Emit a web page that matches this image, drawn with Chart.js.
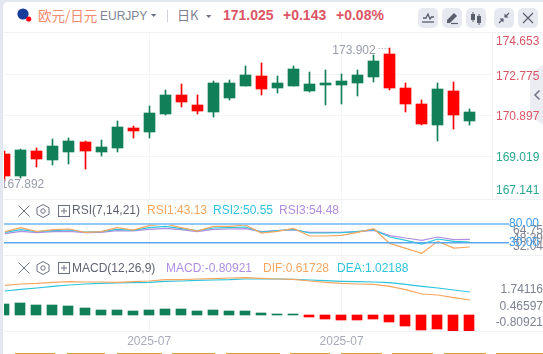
<!DOCTYPE html>
<html>
<head>
<meta charset="utf-8">
<title>EURJPY</title>
<script src="https://cdn.jsdelivr.net/npm/chart.js@4/dist/chart.umd.min.js"></script>
<style>
html, body { margin: 0; padding: 0; }
body { width: 543px; height: 354px; overflow: hidden; position: relative; background: #e3e7ef; font-family: "Liberation Sans", Arial, sans-serif; }
#panel { position: absolute; left: 3px; top: 2px; width: 540px; height: 352px; background: #fff; border-top-left-radius: 5px; }
canvas { position: absolute; left: 0; display: block; }
.t { position: absolute; white-space: nowrap; line-height: 16px; font-size: 12px; }
.line { position: absolute; background: #eff1f5; }
.btn { position: absolute; top: 8px; width: 20px; height: 20px; border-radius: 5px; background: #e7e9f1; }
.btn svg, .ic { position: absolute; left: 0; top: 0; }
.tab { position: absolute; top: 353px; height: 1px; background: #d9a23f; }
#handle { position: absolute; left: 530px; top: 65px; width: 13px; height: 60px; background: #ebedf3; clip-path: polygon(100% 0, 0 16%, 0 84%, 100% 100%); }
</style>
</head>
<body>
<div id="panel"></div>
<div id="handle"></div>

<!-- header -->
<svg class="ic" style="left:16px;top:7px" width="17" height="17">
  <circle cx="7" cy="7" r="5.6" fill="#173c9a"/>
  <circle cx="12.7" cy="12" r="2.6" fill="#f5000f"/>
</svg>
<span class="t" style="left:38px;top:7px;font-size:13.5px;color:#f58a6c;font-family:'Noto Sans CJK SC'">欧元/日元</span>
<span class="t" style="left:100px;top:8px;color:#7d8394">EURJPY</span>
<svg class="ic" style="left:151px;top:14px" width="6" height="4"><path d="M0 0H5.4L2.7 3Z" fill="#6d7282"/></svg>
<div class="line" style="left:167px;top:10px;width:1px;height:12px;background:#cfd2da"></div>
<span class="t" style="left:177px;top:7px;font-size:13px;color:#7d8394;font-family:'Noto Sans CJK SC'">日K</span>
<svg class="ic" style="left:206px;top:15px" width="6" height="4"><path d="M0 0H5.4L2.7 3Z" fill="#6d7282"/></svg>
<span class="t" style="left:223px;top:7px;font-size:14px;font-weight:bold;color:#dc5566">171.025</span>
<span class="t" style="left:283px;top:7px;font-size:14px;font-weight:bold;color:#dc5566">+0.143</span>
<span class="t" style="left:336px;top:7px;font-size:14px;font-weight:bold;color:#dc5566">+0.08%</span>

<div class="btn" style="left:418px"><svg width="20" height="20"><path d="M5 10H8L10 6L12 11L13.5 9H16" fill="none" stroke="#5a5f6e" stroke-width="1.3"/><path d="M4 14H16" stroke="#5a5f6e" stroke-width="1.3"/></svg></div>
<div class="btn" style="left:442px"><svg width="20" height="20"><path d="M5 12L12 5L15 8L8 15H5Z" fill="#5a5f6e"/><path d="M9 15.5H16" stroke="#5a5f6e" stroke-width="1.2"/></svg></div>
<div class="btn" style="left:466px"><svg width="20" height="20"><path d="M7 4V14M13 6V17" stroke="#5a5f6e"/><rect x="5" y="6" width="4" height="6" fill="#5a5f6e"/><rect x="11" y="8" width="4" height="7" fill="#5a5f6e"/></svg></div>
<div class="btn" style="left:494px"><svg width="20" height="20"><path d="M15 5L11 9M5 15L9 11" stroke="#5a5f6e" stroke-width="1.3"/><path d="M10.5 5.5V9.5H14.5Z M5.5 10.5H9.5V14.5Z" fill="#5a5f6e"/></svg></div>
<div class="btn" style="left:518px"><svg width="20" height="20"><path d="M5 5L15 15M15 5L5 15" stroke="#5a5f6e" stroke-width="1.2"/></svg></div>

<!-- pane separators -->
<div class="line" style="left:4px;top:32px;width:539px;height:1px"></div>
<div class="line" style="left:4px;top:199px;width:539px;height:1px"></div>
<div class="line" style="left:4px;top:255px;width:539px;height:1px"></div>
<div class="line" style="left:4px;top:331px;width:539px;height:1px"></div>

<canvas id="mainChart" width="543" height="166" style="top:33px"></canvas>
<canvas id="rsiChart" width="543" height="56" style="top:199px"></canvas>
<canvas id="guideChart" width="543" height="56" style="top:199px"></canvas>
<canvas id="macdChart" width="543" height="97" style="top:255px"></canvas>

<svg class="ic" style="left:533px;top:89px" width="9" height="12"><path d="M6.5 1.5L2 6L6.5 10.5" fill="none" stroke="#6d7282" stroke-width="1.5"/></svg>

<!-- RSI legend -->
<svg class="ic" style="left:17px;top:204px" width="60" height="14">
  <path d="M1.5 1.5L12.5 12.5M12.5 1.5L1.5 12.5" stroke="#6d7282"/>
  <path d="M26 .5L32 3.8V10.2L26 13.5L20 10.2V3.8Z" fill="none" stroke="#6d7282"/><circle cx="26" cy="7" r="2.2" fill="none" stroke="#6d7282"/>
  <rect x="41.5" y="1.5" width="11" height="11" fill="none" stroke="#6d7282"/><path d="M44 7H50M47 4V10" stroke="#6d7282"/>
</svg>
<span class="t" style="left:72px;top:202px;color:#5f6472">RSI(7,14,21)</span>
<span class="t" style="left:147px;top:202px;color:#f7a660">RSI1:43.13</span>
<span class="t" style="left:213px;top:202px;color:#2cc4dc">RSI2:50.55</span>
<span class="t" style="left:279px;top:202px;color:#b08ee0">RSI3:54.48</span>

<!-- MACD legend -->
<svg class="ic" style="left:17px;top:261px" width="60" height="14">
  <path d="M1.5 1.5L12.5 12.5M12.5 1.5L1.5 12.5" stroke="#6d7282"/>
  <path d="M26 .5L32 3.8V10.2L26 13.5L20 10.2V3.8Z" fill="none" stroke="#6d7282"/><circle cx="26" cy="7" r="2.2" fill="none" stroke="#6d7282"/>
  <rect x="41.5" y="1.5" width="11" height="11" fill="none" stroke="#6d7282"/><path d="M44 7H50M47 4V10" stroke="#6d7282"/>
</svg>
<span class="t" style="left:72px;top:260px;color:#5f6472">MACD(12,26,9)</span>
<span class="t" style="left:166px;top:260px;color:#b08ee0">MACD:-0.80921</span>
<span class="t" style="left:263px;top:260px;color:#f7a660">DIF:0.61728</span>
<span class="t" style="left:337px;top:260px;color:#2cc4dc">DEA:1.02188</span>

<!-- tops of the tab row cut off by the screenshot -->
<div class="tab" style="left:15px;width:40px"></div>
<div class="tab" style="left:67px;width:38px"></div>
<div class="tab" style="left:117px;width:45px"></div>
<div class="tab" style="left:172px;width:43px"></div>
<div class="tab" style="left:226px;width:54px"></div>
<div class="tab" style="left:290px;width:40px"></div>
<div class="tab" style="left:341px;width:41px"></div>
<div class="tab" style="left:392px;width:41px"></div>
<div class="tab" style="left:444px;width:42px"></div>
<div class="tab" style="left:496px;width:47px"></div>

<script>
//-----------------------------------------------------
// Data
//-----------------------------------------------------
const opens  = [169.124,168.111,169.262,168.847,169.216,169.676,169.216,169.400,170.321,170.137,170.965,171.840,171.380,171.057,171.702,172.254,172.715,172.162,172.254,172.024,172.301,172.301,172.393,172.669,173.728,172.162,171.426,170.459,172.024,170.643];
const closes = [168.111,169.308,168.893,169.492,169.722,169.262,169.446,170.367,170.183,171.011,171.840,171.518,171.103,172.393,172.393,172.761,172.116,172.393,173.037,172.347,172.393,172.485,172.761,173.405,172.162,171.426,170.505,172.116,170.919,171.057];
const highs  = [169.262,169.354,169.400,169.814,169.860,169.722,169.768,170.643,170.413,171.334,172.070,172.347,171.840,172.485,172.531,173.175,173.313,172.715,173.175,172.899,172.991,172.807,172.991,173.682,174.004,172.393,171.610,172.393,172.439,171.196];
const lows   = [167.892,168.019,168.525,168.617,168.663,168.433,169.032,169.216,169.860,169.860,170.919,171.288,170.965,170.827,171.610,172.254,171.840,171.932,172.254,171.978,171.380,171.426,171.794,172.439,172.070,171.057,170.459,169.722,170.275,170.459];

const rsi1 = [66.1,72.1,66.1,69.1,70.1,65.1,66.1,72.1,68.6,75.1,77.6,72.1,67.1,74.1,74.1,76.1,64.1,66.6,71.1,59.6,59.6,60.6,65.1,70.6,48.6,41.1,33.6,51.6,41.6,43.13];
const rsi2 = [65.1,69.1,66.1,67.6,68.6,65.6,66.1,69.6,68.1,72.1,74.1,70.6,67.6,71.6,72.1,73.1,65.6,67.6,69.6,64.1,64.1,64.6,66.1,69.1,58.1,53.1,47.6,55.1,51.6,50.55];
const rsi3 = [63.1,66.6,64.6,66.1,66.6,64.6,65.1,67.6,67.1,69.6,71.1,69.1,66.1,69.6,70.1,70.6,66.1,67.6,68.6,65.1,65.1,65.1,66.1,68.1,60.1,56.6,53.1,58.1,54.1,54.48];

const dif = [1.359,1.427,1.460,1.511,1.544,1.528,1.528,1.511,1.544,1.578,1.645,1.645,1.679,1.696,1.730,1.747,1.713,1.679,1.662,1.578,1.511,1.460,1.427,1.410,1.309,1.140,0.921,0.870,0.735,0.61728];
const dea = [1.072,1.157,1.224,1.309,1.376,1.427,1.460,1.477,1.494,1.511,1.561,1.578,1.612,1.629,1.645,1.679,1.679,1.679,1.662,1.629,1.595,1.561,1.544,1.528,1.494,1.410,1.309,1.224,1.123,1.02188];
const macdHist = [0.556,0.607,0.506,0.506,0.455,0.354,0.253,0.253,0.202,0.253,0.303,0.303,0.202,0.253,0.202,0.202,0.101,0.03,0.03,-0.101,-0.202,-0.253,-0.253,-0.202,-0.354,-0.556,-0.759,-0.708,-0.809,-0.80921];

const priceTicks = ['174.653','172.775','170.897','169.019','167.141'];
const priceGrid = [172.775,170.897,169.019];
const rsiTicks = ['64.75','48.39','32.04'];
const rsiGuides = ['80.00','30.00'];
const macdTicks = ['1.74116','0.46597','-0.80921'];
const dateTicks = { 9: '2025-07', 21: '2025-07' };
const highLabel = '173.902';
const lowLabel = '167.892';

const GREEN = '#118058';
const RED = '#ff0000';
const GRID = '#f4f5f8';
const FONT = { family: '"Liberation Sans", Arial, sans-serif', size: 12 };

Chart.defaults.font.family = FONT.family;
Chart.defaults.font.size = FONT.size;
Chart.defaults.animation = false;

//-----------------------------------------------------
// Helpers
//-----------------------------------------------------
const index = opens.map((_, i) => i);
const points = (arr) => arr.map((y, i) => ({ x: i, y }));

// Original axis rounds bar columns to whole pixels, so do the same
const snapBars = {
    id: 'snapBars',
    beforeDatasetsDraw(chart) {
        chart.getSortedVisibleDatasetMetas().forEach(meta => {
            if (meta.type !== 'bar') return;
            meta.data.forEach(el => {
                el.x = el.width % 2 ? Math.floor(el.x) + 0.5 : Math.floor(el.x);
                el.y = Math.round(el.y);
                el.base = Math.round(el.base);
            });
        });
    }
};

// Gray notes beside the highest and lowest candle
const extremes = {
    id: 'extremes',
    afterDatasetsDraw(chart) {
        const { ctx, scales, chartArea } = chart;
        const hi = highs.indexOf(Math.max(...highs));
        const lo = lows.indexOf(Math.min(...lows));
        ctx.save();
        ctx.beginPath();
        ctx.rect(chartArea.left, chartArea.top, chartArea.right - chartArea.left, chartArea.bottom - chartArea.top);
        ctx.clip();
        ctx.font = '12px ' + FONT.family;
        ctx.fillStyle = '#989cab';
        ctx.textBaseline = 'middle';
        ctx.textAlign = 'right';
        const hx = scales.x.getPixelForValue(hi);
        const hy = scales.yPrice.getPixelForValue(highs[hi]);
        ctx.fillText(highLabel, hx - 14, hy + 3);
        ctx.strokeStyle = '#989cab';
        ctx.setLineDash([1, 2]);
        ctx.beginPath();
        ctx.moveTo(hx - 11, hy + 0.5);
        ctx.lineTo(hx - 1, hy + 0.5);
        ctx.stroke();
        ctx.textAlign = 'left';
        ctx.fillText(lowLabel, scales.x.getPixelForValue(lo) - 4, scales.yPrice.getPixelForValue(lows[lo]) + 3.5);
        ctx.restore();
    }
};

// Shared x axis: candle slots a little over 16px wide, from x=4 to x=492
function xAxis(showLabels) {
    return {
        type: 'linear',
        min: -0.053,
        max: 30.378,
        offset: false,
        border: { display: false },
        grid: { color: GRID, offset: false, drawTicks: false },
        afterBuildTicks: axis => { axis.ticks = Object.keys(dateTicks).map(v => ({ value: +v })); },
        afterFit: axis => {
            axis.height = showLabels ? 21 : 0;
            axis.paddingLeft = axis.paddingRight = 0;
        },
        ticks: {
            display: showLabels,
            autoSkip: false,
            maxRotation: 0,
            padding: 3,
            color: '#a8abba',
            callback: value => dateTicks[value]
        }
    };
}

// Tick labels stay inside the pane, the way the source chart clamps them
function labelAxis(labels, min, max, edge, extra) {
    return Object.assign({
        position: 'right',
        min,
        max,
        border: { display: false },
        grid: { display: false, drawTicks: false },
        afterFit: axis => {
            axis.width = 51;
            // labels may stick out of the pane, do not shrink the plot for them
            axis.paddingTop = axis.paddingBottom = 0;
        },
        afterBuildTicks: axis => {
            const pad = (max - min) * edge;
            axis.ticks = labels.map(l => ({ value: Math.min(max - pad, Math.max(min + pad, parseFloat(l))) }));
        }
    }, extra);
}

const baseOptions = {
    responsive: false,
    layout: { autoPadding: false, padding: { left: 4 } },
    plugins: { legend: { display: false }, tooltip: { enabled: false } }
};

//-----------------------------------------------------
// Candles
//-----------------------------------------------------
const candleColors = index.map(i => closes[i] >= opens[i] ? GREEN : RED);

new Chart(document.getElementById('mainChart'), {
    type: 'bar',
    data: {
        datasets: [
            { data: index.map(i => ({ x: i, y: [lows[i], highs[i]] })), backgroundColor: candleColors, barThickness: 1, grouped: false, yAxisID: 'yPrice', order: 2 },
            { data: index.map(i => ({ x: i, y: [opens[i], closes[i]] })), backgroundColor: candleColors, barThickness: 11, grouped: false, yAxisID: 'yPrice', order: 1 }
        ]
    },
    options: Object.assign({}, baseOptions, {
        scales: {
            x: xAxis(false),
            // candles and horizontal grid
            yPrice: {
                position: 'right',
                min: 167.052,
                max: 174.695,
                border: { display: false },
                grid: { color: GRID, drawTicks: false },
                ticks: { display: false },
                afterBuildTicks: axis => { axis.ticks = priceGrid.map(value => ({ value })); },
                afterFit: axis => { axis.width = 0; axis.paddingTop = axis.paddingBottom = 0; }
            },
            // price labels sit a little under their grid lines
            y: labelAxis(priceTicks, 167.121, 174.764, 0.052, {
                border: { display: true, color: '#eff1f5' },
                ticks: {
                    padding: 4,
                    color: ctx => ctx.index < 3 ? '#dc5566' : '#27a88f',
                    callback: (v, i) => priceTicks[i]
                }
            })
        }
    }),
    plugins: [snapBars, extremes]
});

//-----------------------------------------------------
// RSI
//-----------------------------------------------------
function rsiLine(values, color) {
    return { data: points(values), borderColor: color, borderWidth: 1.2, pointRadius: 0, tension: 0, yAxisID: 'yLine' };
}

new Chart(document.getElementById('rsiChart'), {
    type: 'line',
    data: {
        datasets: [
            rsiLine(rsi1, '#f7a660'),
            rsiLine(rsi2, '#2cc4dc'),
            rsiLine(rsi3, '#b08ee0')
        ]
    },
    options: Object.assign({}, baseOptions, {
        scales: {
            x: xAxis(false),
            yLine: { display: false, min: 31.13, max: 115.13 },
            y: labelAxis(rsiTicks, 16, 128.4, 0, {
                ticks: { crossAlign: 'far', padding: 18, color: '#7d8290', callback: (v, i) => rsiTicks[i] }
            })
        }
    })
});

// 80 and 30 guide lines with their blue labels, on a scale of their own
new Chart(document.getElementById('guideChart'), {
    type: 'line',
    data: { datasets: [] },
    options: Object.assign({}, baseOptions, {
        scales: {
            x: { display: false },
            y: labelAxis(rsiGuides, -2.9, 146.8, 0, {
                grid: {
                    display: true,
                    tickLength: 17,
                    lineWidth: ctx => ctx.index === 0 ? 2 : 1.5,
                    color: ctx => ctx.index === 0 ? '#93c9f6' : '#58a8ea'
                },
                ticks: { padding: 0, color: '#3f9cf0', callback: (v, i) => rsiGuides[i] }
            })
        }
    })
});

//-----------------------------------------------------
// MACD
//-----------------------------------------------------
function macdLine(values, color) {
    return { type: 'line', data: points(values), borderColor: color, borderWidth: 1.2, pointRadius: 0, tension: 0, yAxisID: 'yLine', order: 1 };
}

new Chart(document.getElementById('macdChart'), {
    type: 'bar',
    data: {
        datasets: [
            macdLine(dif, '#f7a660'),
            macdLine(dea, '#2cc4dc'),
            {
                data: points(macdHist),
                backgroundColor: macdHist.map(v => v >= 0 ? GREEN : RED),
                barThickness: 10,
                grouped: false,
                yAxisID: 'yHist',
                order: 2
            }
        ]
    },
    options: Object.assign({}, baseOptions, {
        scales: {
            x: xAxis(true),
            yLine: { display: false, min: -0.951, max: 2.893 },
            yHist: { display: false, min: -0.81, max: 3.034 },
            y: labelAxis(macdTicks, -1.434, 4.389, 0, {
                ticks: { crossAlign: 'far', padding: 0, color: '#7d8290', callback: (v, i) => macdTicks[i] }
            })
        }
    }),
    plugins: [snapBars]
});
</script>
</body>
</html>
